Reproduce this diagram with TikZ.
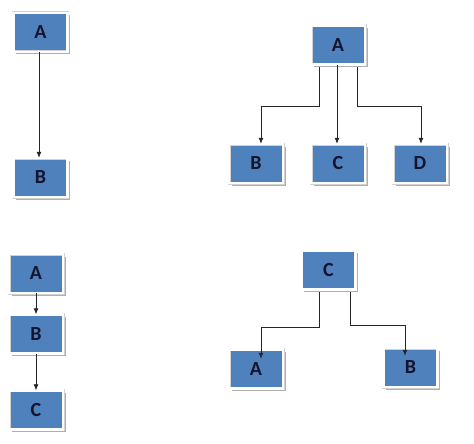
\documentclass[tikz,border=0pt]{standalone}
\usepackage{fontspec}
\setmainfont{Carlito}
\usetikzlibrary{arrows.meta,shadows}
\definecolor{boxblue}{RGB}{79,129,189}
\definecolor{txtnavy}{RGB}{20,20,45}
\definecolor{shadowgray}{RGB}{175,175,175}
\tikzset{
  box/.style={rectangle, fill=boxblue, draw=gray!35, double=white, double distance=2.2pt, line width=0.4pt,
    minimum width=54pt, minimum height=39pt, inner sep=0pt,
    font=\fontsize{20}{22}\selectfont\bfseries, text=txtnavy,
    drop shadow={shadow xshift=2.5pt, shadow yshift=-2.5pt, fill=shadowgray, opacity=1}},
  arr/.style={draw=black!85, line width=0.8pt, -{Latex[length=6pt,width=5pt]}}
}
\begin{document}
\begin{tikzpicture}[x=1pt,y=-1pt]
\useasboundingbox[fill=white] (0,0) rectangle (474,444);
% top left
\node[box] (A1) at (40.5,32.5) {A};
\node[box] (B1) at (40.5,177.5) {B};
\draw[arr] ([xshift=-1.5pt]A1.south) -- ([xshift=-1.5pt]B1.north);
% top right
\node[box] (A2) at (338,45) {A};
\node[box] (B2) at (256,163.5) {B};
\node[box] (C2) at (338,163.5) {C};
\node[box] (D2) at (420,163.5) {D};
\draw[arr] ([xshift=-19pt,yshift=-2.5pt]A2.south) -- ++(0,39.5) -| ([xshift=5pt]B2.north);
\draw[arr] ([xshift=-1pt]A2.south) -- ([xshift=-1pt]C2.north);
\draw[arr] ([xshift=19pt,yshift=-2.5pt]A2.south) -- ++(0,39.5) -| ([xshift=1pt]D2.north);
% bottom left
\node[box] (A3) at (36,273.5) {A};
\node[box] (B3) at (36,334) {B};
\node[box] (C3) at (36,410) {C};
\draw[arr] (A3.south) -- (B3.north);
\draw[arr] (B3.south) -- (C3.north);
% bottom right
\node[box] (C4) at (328.5,270) {C};
\node[box] (A4) at (256,369) {A};
\node[box] (B4) at (410.5,367.5) {B};
\draw[arr] ([xshift=-9.5pt,yshift=-2.5pt]C4.south) -- ++(0,35) -| ([xshift=5pt,yshift=-9.5pt]A4.north);
\draw[arr] ([xshift=21.5pt,yshift=-2.5pt]C4.south) -- ++(0,33) -| ([xshift=-5.5pt,yshift=-8pt]B4.north);
\end{tikzpicture}
\end{document}
